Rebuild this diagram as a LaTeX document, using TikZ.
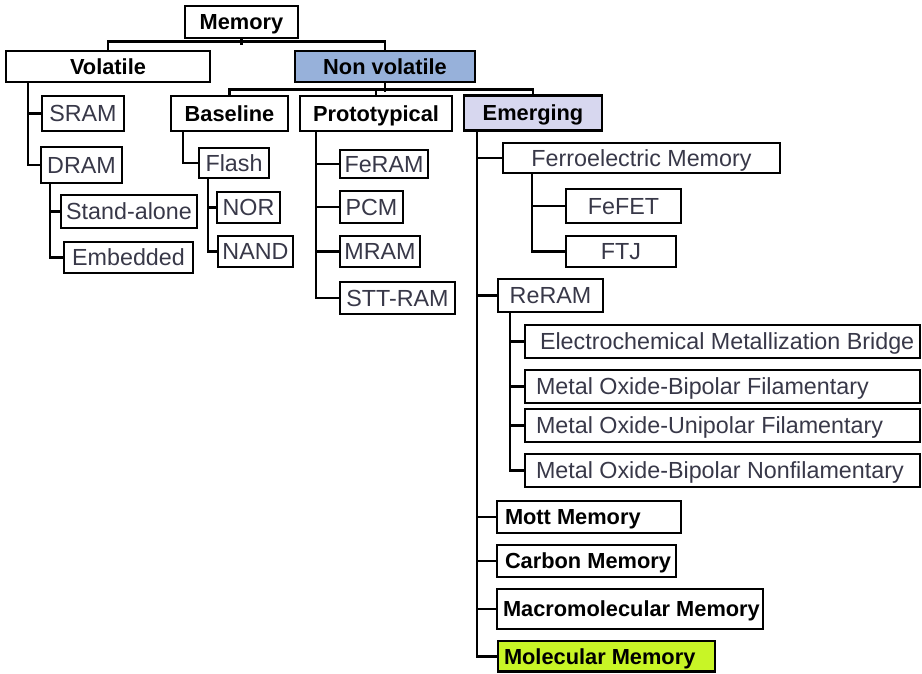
\documentclass[tikz,border=0pt]{standalone}
\usepackage{fontspec}
\setmainfont{Liberation Sans}
\definecolor{nvblue}{HTML}{97B1DA}
\definecolor{emlav}{HTML}{D7D7EF}
\definecolor{molgreen}{HTML}{C8F526}
\definecolor{txtg}{HTML}{383848}
\newcommand\regf{\fontsize{23.3}{28}\selectfont}
\newcommand\boldf{\fontsize{21.8}{26}\selectfont\bfseries}
\newcommand\lbx[2]{\makebox[#1][l]{#2}}
\begin{document}
\begin{tikzpicture}[x=1pt,y=-1pt,
  bx/.style={draw, line width=2.6pt, rectangle, inner sep=0pt, text height=16.7pt, text depth=0pt, font=\regf, text=txtg},
  bb/.style={bx, font=\boldf, text=black, text height=15.6pt},
  ln/.style={line width=2.6pt}]
\useasboundingbox (0,0) rectangle (922,673);

% top levels
\node[bb, minimum width=113pt, minimum height=32pt] (mem) at (241.5,22) {Memory};
\node[bb, minimum width=204pt, minimum height=31pt] (vol) at (108,66.5) {Volatile};
\node[bb, fill=nvblue, minimum width=180pt, minimum height=31pt] (nv) at (385,66.5) {Non volatile};
\node[bb, minimum width=117pt, minimum height=35pt] (base) at (229.5,113.5) {Baseline};
\node[bb, minimum width=152pt, minimum height=35pt] (proto) at (376,113.5) {Prototypical};
\node[bb, fill=emlav, minimum width=138pt, minimum height=35pt] (emer) at (533,113) {Emerging};

% volatile branch
\node[bx, minimum width=82pt, minimum height=35pt] (sram) at (83,113.5) {SRAM};
\node[bx, minimum width=81pt, minimum height=36pt] (dram) at (81.5,165) {DRAM};
\node[bx, minimum width=136pt, minimum height=33pt] (stand) at (129,211.5) {Stand-alone};
\node[bx, minimum width=129pt, minimum height=31pt] (emb) at (128.5,257.5) {Embedded};

% baseline branch
\node[bx, minimum width=70pt, minimum height=30pt] (flash) at (234,163) {Flash};
\node[bx, minimum width=63pt, minimum height=31pt] (nor) at (248.5,207.5) {NOR};
\node[bx, minimum width=75pt, minimum height=31pt] (nand) at (255.5,251.5) {NAND};

% prototypical branch
\node[bx, minimum width=88pt, minimum height=28pt] (feram) at (384,164) {FeRAM};
\node[bx, minimum width=63pt, minimum height=32pt] (pcm) at (371.5,207) {PCM};
\node[bx, minimum width=80pt, minimum height=31pt] (mram) at (380,251.5) {MRAM};
\node[bx, minimum width=115pt, minimum height=32pt] (stt) at (397.5,298) {STT-RAM};

% emerging branch
\node[bx, minimum width=277pt, minimum height=30pt] (ferro) at (641.5,158) {Ferroelectric Memory};
\node[bx, minimum width=115pt, minimum height=34pt] (fefet) at (623.5,206) {FeFET};
\node[bx, minimum width=110pt, minimum height=31pt] (ftj) at (621,251.5) {FTJ};
\node[bx, minimum width=105pt, minimum height=33pt] (reram) at (550.5,295.5) {ReRAM};
\node[bx, minimum width=395pt, minimum height=33pt, inner xsep=15pt] (ecm) at (722.5,341.5) {\lbx{365pt}{Electrochemical Metallization Bridge}};
\node[bx, minimum width=395pt, minimum height=33pt, inner xsep=11pt] (mobf) at (722.5,386.5) {\lbx{373pt}{Metal Oxide-Bipolar Filamentary}};
\node[bx, minimum width=395pt, minimum height=33pt, inner xsep=11pt] (mouf) at (722.5,425.5) {\lbx{373pt}{Metal Oxide-Unipolar Filamentary}};
\node[bx, minimum width=395pt, minimum height=33pt, inner xsep=11pt] (mobn) at (722.5,470.5) {\lbx{373pt}{Metal Oxide-Bipolar Nonfilamentary}};
\node[bb, minimum width=184pt, minimum height=32pt, inner xsep=8pt] (mott) at (589,517) {\lbx{168pt}{Mott Memory}};
\node[bb, minimum width=179pt, minimum height=32pt, inner xsep=8pt] (carbon) at (586.5,561) {\lbx{163pt}{Carbon Memory}};
\node[bb, minimum width=266pt, minimum height=40pt, inner xsep=6pt] (macro) at (630,609) {\lbx{254pt}{Macromolecular Memory}};
\node[bb, fill=molgreen, minimum width=217pt, minimum height=30.5pt, inner xsep=6pt] (mol) at (606.5,656.25) {\lbx{205pt}{Molecular Memory}};

% connectors: top
\draw[ln] (mem.south) -- ++(0,5.5);
\draw[ln] (vol.north) -- ++(0,-8) -| (nv.north);
\draw[ln] (nv.south) -- ++(0,9);
\draw[ln] (base.north) -- ++(0,-5.5) -| (emer.north);
\draw[ln] (proto.north) -- ++(0,-5.5);

% volatile
\coordinate (tv) at (28,82);
\draw[ln] (tv) |- (dram.west);
\draw[ln] (tv |- sram.west) -- (sram.west);
\coordinate (td) at (50,183);
\draw[ln] (td) |- (emb.west);
\draw[ln] (td |- stand.west) -- (stand.west);

% baseline
\coordinate (tb) at (183,131);
\draw[ln] (tb) |- (flash.west);
\coordinate (tf) at (208,178);
\draw[ln] (tf) |- (nand.west);
\draw[ln] (tf |- nor.west) -- (nor.west);

% prototypical
\coordinate (tp) at (316,131);
\draw[ln] (tp) |- (stt.west);
\draw[ln] (tp |- feram.west) -- (feram.west);
\draw[ln] (tp |- pcm.west) -- (pcm.west);
\draw[ln] (tp |- mram.west) -- (mram.west);

% emerging
\coordinate (te) at (477,130);
\draw[ln] (te) |- (mol.west);
\draw[ln] (te |- ferro.west) -- (ferro.west);
\draw[ln] (te |- reram.west) -- (reram.west);
\draw[ln] (te |- mott.west) -- (mott.west);
\draw[ln] (te |- carbon.west) -- (carbon.west);
\draw[ln] (te |- macro.west) -- (macro.west);

% ferroelectric
\coordinate (tfe) at (532,173);
\draw[ln] (tfe) |- (ftj.west);
\draw[ln] (tfe |- fefet.west) -- (fefet.west);

% reram
\coordinate (tr) at (510,312);
\draw[ln] (tr) |- (mobn.west);
\draw[ln] (tr |- ecm.west) -- (ecm.west);
\draw[ln] (tr |- mobf.west) -- (mobf.west);
\draw[ln] (tr |- mouf.west) -- (mouf.west);
\end{tikzpicture}
\end{document}
